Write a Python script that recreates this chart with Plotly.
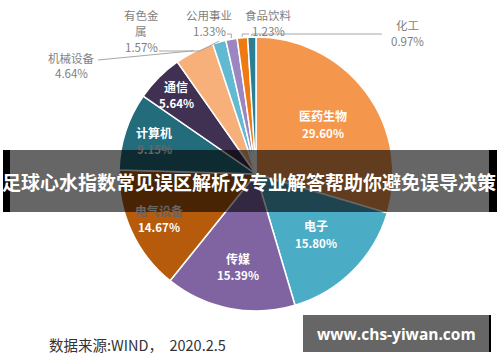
import plotly.graph_objects as go
import math

W, H = 500, 362

# ---- data ----
sectors = ["医药生物", "电子", "传媒", "电气设备", "计算机", "通信",
           "机械设备", "有色金属", "公用事业", "食品饮料", "化工"]
shares = [29.60, 15.80, 15.39, 14.67, 9.15, 5.64, 4.64, 1.57, 1.33, 1.23, 0.97]
outside_names = ["机械设备", "有色金属", "公用事业", "食品饮料", "化工"]
outside_lines = {"机械设备": ["机械设备"], "有色金属": ["有色金", "属"], "公用事业": ["公用事业"],
                 "食品饮料": ["食品饮料"], "化工": ["化工"]}
title_text = "足球心水指数常见误区解析及专业解答帮助你避免误导决策"
source_text = "数据来源:WIND，  2020.2.5"
watermark = "www.chs-yiwan.com"

colors = ["#F4964B", "#4BACC6", "#8064A2", "#B65A0C", "#236C7C", "#403152",
          "#F8B07A", "#62B9D2", "#9B86C2", "#F07A12", "#2B7F95"]

# pie placement (pixels)
CX, CY, R = 256, 174, 137
dom_x = [(CX - R) / W, (CX + R) / W]
dom_y = [1 - (CY + R) / H, 1 - (CY - R) / H]

# title banner band (pixels)
BAN_Y0, BAN_Y1 = 150, 212

fig = go.Figure(go.Pie(
    labels=sectors, values=shares, sort=False, direction="clockwise", rotation=0,
    marker=dict(colors=colors, line=dict(color="white", width=1.5)),
    textinfo="none",
    domain=dict(x=dom_x, y=dom_y), showlegend=False, hoverinfo="label+value",
))

def px2paper(x, y):
    return x / W, 1 - y / H

# slice mid-angle directions, derived from the data
total = sum(shares)
dirs = {}
cum = 0
for s, v in zip(sectors, shares):
    th = 2 * math.pi * (cum + v / 2) / total
    dirs[s] = (math.sin(th), -math.cos(th))
    cum += v

shapes = []
annotations = []

def add_text(x, y, text, size, color, bold=False, family="Noto Sans CJK SC", anchor="center"):
    px, py = px2paper(x, y)
    annotations.append(dict(x=px, y=py, xref="paper", yref="paper", showarrow=False,
                            text=f"<b>{text}</b>" if bold else text,
                            xanchor=anchor, yanchor="middle",
                            font=dict(size=size, color=color, family=family)))

# inside labels: radial position (fraction of radius) per slice
inside_frac = {"医药生物": 0.61, "电子": 0.62, "传媒": 0.69, "电气设备": 0.78,
               "计算机": 0.78, "通信": 0.82}
for s, v in zip(sectors, shares):
    if s in inside_frac:
        dx, dy = dirs[s]
        f = inside_frac[s]
        lx, ly = CX + R * f * dx, CY + R * f * dy
        for t, yy, sz in ((s, ly - 8.5, 12), (f"{v:.2f}%", ly + 8.5, 11.5)):
            # text lying under the translucent banner is seen dimmed through it
            col = "#666666" if BAN_Y0 - 3 <= yy <= BAN_Y1 + 3 else "white"
            add_text(lx, yy, t, sz, col, bold=True)

# outside labels (pixels): label centre x, first-line y, line spacing, leader path via points
label_layout = {
    "机械设备": dict(lx=71, ly=58, dy=14.5, via=[], end=(98, 60)),
    "有色金属": dict(lx=141, ly=15, dy=16, via=[(200, 51)], end=(159, 51)),
    "公用事业": dict(lx=209, ly=15, dy=16, via=["up34"], end=(227, 34)),
    "食品饮料": dict(lx=268, ly=15, dy=16, via=["up34"], end=(249, 34)),
    "化工": dict(lx=407, ly=25, dy=16, via=["up34"], end=(382, 34)),
}

for s in outside_names:
    v = shares[sectors.index(s)]
    L = label_layout[s]
    dx, dy = dirs[s]
    tx, ty = CX + (R + 1) * dx, CY + (R + 1) * dy
    pts = [(tx, ty)]
    for p in L["via"]:
        if p == "up34":
            pts.append((tx, 34))
        else:
            pts.append(p)
    pts.append(L["end"])
    path = "M " + " L ".join("%f,%f" % px2paper(x, y) for x, y in pts)
    shapes.append(dict(type="path", path=path, xref="paper", yref="paper",
                       line=dict(color="#A6A6A6", width=1)))
    lines = outside_lines[s] + [f"{v:.2f}%"]
    for i, t in enumerate(lines):
        add_text(L["lx"], L["ly"] + i * L["dy"], t, 11.5, "#7F7F7F")

def rect(x0, y0, x1, y1, color):
    a0 = px2paper(x0, y0)
    a1 = px2paper(x1, y1)
    return dict(type="rect", xref="paper", yref="paper", x0=a0[0], y0=a1[1], x1=a1[0], y1=a0[1],
                fillcolor=color, line=dict(width=0), layer="above")

# title banner
shapes.append(rect(10, BAN_Y0, 489, BAN_Y1, "rgba(0,0,0,0.6)"))
shapes.append(rect(3, BAN_Y0, 10, BAN_Y1, "black"))
shapes.append(rect(489, BAN_Y0, 497, BAN_Y1, "black"))
# watermark box
shapes.append(rect(303, 315, 489, 352, "#666666"))
shapes.append(rect(489, 315, 491, 352, "black"))

add_text(249, 181, title_text, 19, "white", bold=True)
add_text(396, 334, watermark, 15.5, "white", bold=True, family="Open Sans")
add_text(47, 344, source_text, 14.5, "#333333", anchor="left")

fig.update_layout(width=W, height=H, margin=dict(l=0, r=0, t=0, b=0),
                  paper_bgcolor="white", plot_bgcolor="white",
                  shapes=shapes, annotations=annotations)

fig.write_html("out.html", config={"displayModeBar": False},
               post_script="document.body.style.margin='0';document.body.style.overflow='hidden';")
